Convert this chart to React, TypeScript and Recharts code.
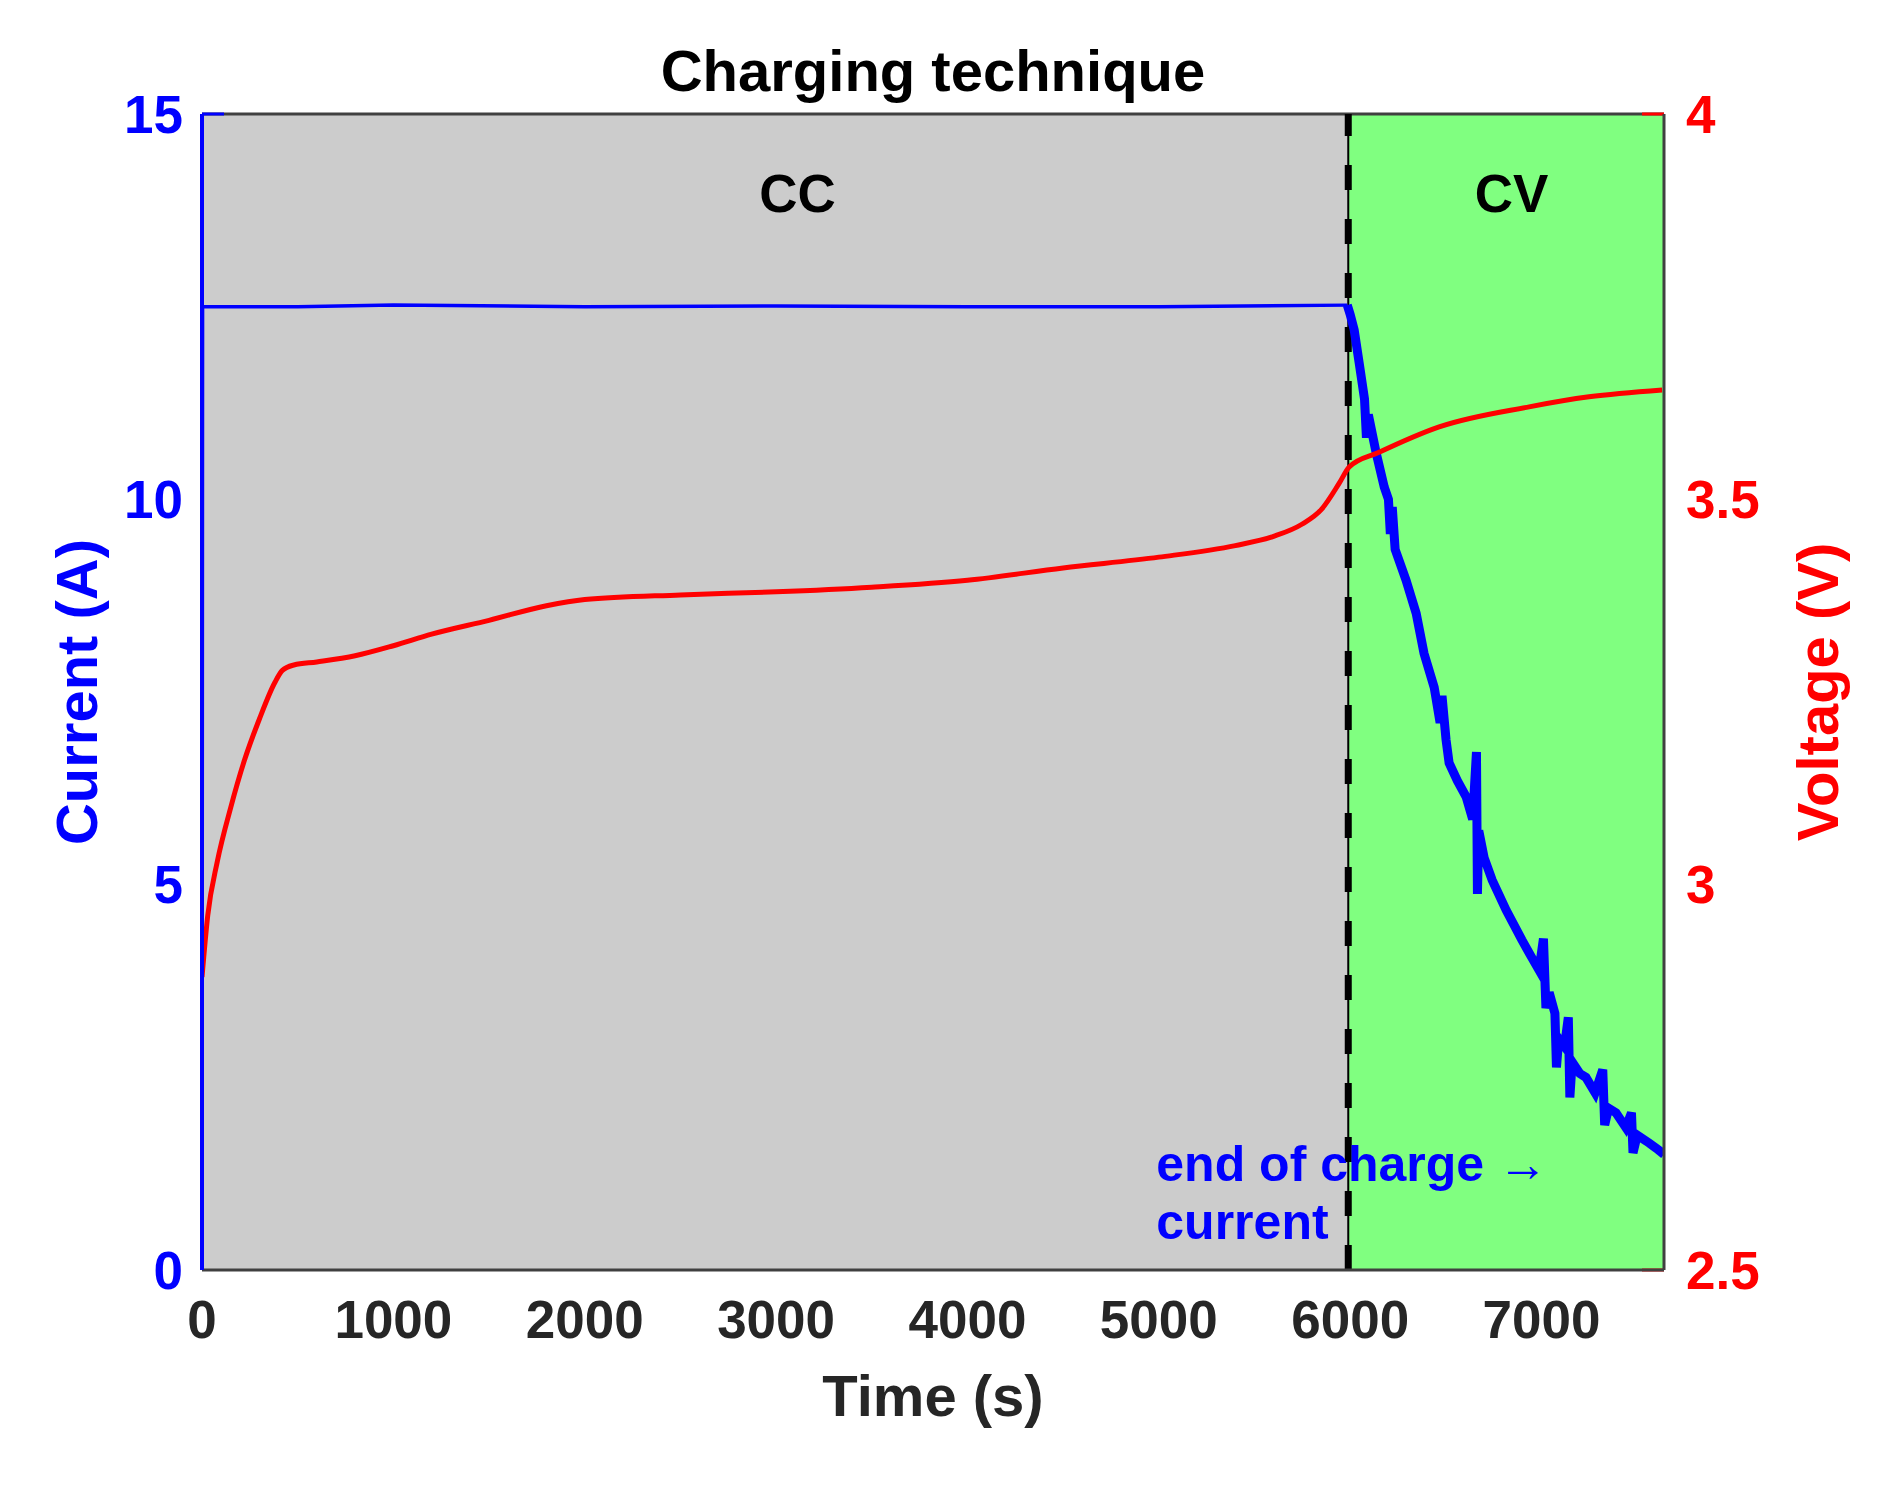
import React from 'react';
import {
  ComposedChart,
  Line,
  XAxis,
  YAxis,
  ReferenceArea,
  ReferenceLine,
  ReferenceDot,
  Label,
} from 'recharts';

const FONT = '"Liberation Sans", Arial, Helvetica, sans-serif';

// Axis ticks
const timeTicks = [0, 1000, 2000, 3000, 4000, 5000, 6000, 7000];
const currentTicks = [0, 5, 10, 15];
const voltageTicks = [2.5, 3, 3.5, 4];

// Phase boundaries (s)
const timeMax = 7640;
const cvStart = 5990;

// Voltage (V)
const voltageTime = [
  0, 30, 80, 150, 220, 300, 380, 420, 480, 600, 800, 1000, 1200, 1500, 1800, 2000,
  2500, 3000, 3500, 4000, 4500, 5000, 5400, 5600, 5750, 5850, 5943, 5995, 6151, 6465,
  6935, 7248, 7630,
];
const voltageValues = [
  2.88, 2.96, 3.03, 3.1, 3.16, 3.215, 3.262, 3.278, 3.285, 3.289, 3.297, 3.31, 3.325,
  3.343, 3.362, 3.37, 3.376, 3.38, 3.386, 3.395, 3.411, 3.425, 3.44, 3.452, 3.468, 3.487,
  3.521, 3.542, 3.561, 3.594, 3.62, 3.633, 3.642,
];

// Current, constant-current phase (A)
const ccTime = [0, 3, 500, 1000, 2000, 3000, 4000, 5000, 5985];
const ccCurrent = [0, 12.5, 12.5, 12.52, 12.5, 12.51, 12.5, 12.5, 12.52];

// Current, constant-voltage phase (A)
const cvTime = [
  5985, 6000, 6021, 6047, 6075, 6085, 6095, 6136, 6178, 6200, 6210, 6220, 6235, 6292,
  6345, 6386, 6439, 6470, 6480, 6501, 6517, 6560, 6606, 6640, 6660, 6665, 6672, 6700,
  6742, 6815, 6898, 6950, 6987, 7010, 7023, 7040, 7070, 7078, 7090, 7120, 7140, 7148,
  7160, 7200, 7232, 7280, 7320, 7330, 7350, 7389, 7440, 7470, 7478, 7500, 7561, 7600,
  7640,
];
const cvCurrent = [
  12.52, 12.4, 12.2, 11.77, 11.3, 10.8, 11.1, 10.6, 10.16, 10.0, 9.55, 9.9, 9.35, 8.95,
  8.52, 8.0, 7.56, 7.1, 7.45, 6.88, 6.58, 6.35, 6.14, 5.85, 6.72, 4.88, 5.7, 5.35,
  5.06, 4.67, 4.28, 4.05, 3.89, 4.3, 3.4, 3.6, 3.33, 2.63, 3.0, 2.9, 3.28, 2.24,
  2.7, 2.55, 2.5, 2.3, 2.6, 1.88, 2.1, 2.04, 1.85, 2.04, 1.52, 1.75, 1.65, 1.58,
  1.5,
];

const voltageData = voltageTime.map((t, i) => ({ t, v: voltageValues[i] }));
const ccData = ccTime.map((t, i) => ({ t, i: ccCurrent[i] }));
const cvData = cvTime.map((t, i) => ({ t, i: cvCurrent[i] }));

const textLabel =
  (lines: string[], opts: { dx?: number; dy?: number; anchor?: string; fill: string; size: number; lineGap?: number }) =>
  (props: any) => {
    const vb = props.viewBox || {};
    const x = (vb.x || 0) + (opts.dx || 0);
    const y = (vb.y || 0) + (opts.dy || 0);
    return (
      <text
        x={x}
        y={y}
        textAnchor={opts.anchor || 'middle'}
        dominantBaseline="central"
        fill={opts.fill}
        fontSize={opts.size}
        fontWeight={700}
        fontFamily={FONT}
      >
        {lines.map((l, k) => (
          <tspan key={k} x={x} dy={k === 0 ? 0 : opts.lineGap || 0}>
            {l}
          </tspan>
        ))}
      </text>
    );
  };

const rotatedLabel = (value: string, x: number, y: number, fill: string) => () => (
  <text
    x={x}
    y={y}
    transform={`rotate(-90 ${x} ${y})`}
    textAnchor="middle"
    dominantBaseline="central"
    fill={fill}
    fontSize={58}
    fontWeight={700}
    fontFamily={FONT}
  >
    {value}
  </text>
);

export default function App() {
  return (
    <div style={{ width: 1888, height: 1469 }}>
      <ComposedChart width={1888} height={1469} margin={{ top: 106, right: 0, bottom: 0, left: 0 }}>
        <XAxis
          type="number"
          dataKey="t"
          domain={[0, timeMax]}
          ticks={timeTicks}
          allowDataOverflow
          height={207}
          tickSize={0}
          tickMargin={30}
          tickLine={false}
          axisLine={{ stroke: '#404040', strokeWidth: 3 }}
          tick={{ fill: '#262626', fontSize: 53, fontWeight: 700, fontFamily: FONT }}
        >
          <Label
            content={() => (
              <text
                x={925}
                y={1387}
                textAnchor="middle"
                dominantBaseline="central"
                fill="#262626"
                fontSize={58}
                fontWeight={700}
                fontFamily={FONT}
              >
                Time (s)
              </text>
            )}
          />
        </XAxis>
        <YAxis
          yAxisId="left"
          orientation="left"
          width={194}
          domain={[0, 15]}
          ticks={currentTicks}
          allowDataOverflow
          tickSize={0}
          tickMargin={19}
          tickLine={false}
          axisLine={{ stroke: '#0000ff', strokeWidth: 4 }}
          tick={{ fill: '#0000ff', fontSize: 53, fontWeight: 700, fontFamily: FONT }}
        >
          <Label content={rotatedLabel('Current (A)', 68, 684, '#0000ff')} />
        </YAxis>
        <YAxis
          yAxisId="right"
          orientation="right"
          width={232}
          domain={[2.5, 4]}
          ticks={voltageTicks}
          allowDataOverflow
          tickSize={0}
          tickMargin={22}
          tickLine={false}
          axisLine={{ stroke: '#404040', strokeWidth: 3 }}
          tick={{ fill: '#ff0000', fontSize: 53, fontWeight: 700, fontFamily: FONT }}
        >
          <Label content={rotatedLabel('Voltage (V)', 1809, 684, '#ff0000')} />
        </YAxis>

        <ReferenceArea yAxisId="left" x1={0} x2={cvStart} y1={0} y2={15} fill="#cccccc" fillOpacity={1} stroke="none" />
        <ReferenceArea yAxisId="left" x1={cvStart} x2={timeMax} y1={0} y2={15} fill="#80ff80" fillOpacity={1} stroke="none" />
        <ReferenceLine yAxisId="left" y={15} stroke="#404040" strokeWidth={3} />
        <ReferenceLine yAxisId="left" x={cvStart} stroke="#000000" strokeWidth={2} />
        <ReferenceLine yAxisId="left" x={cvStart} stroke="#000000" strokeWidth={7} strokeDasharray="25 29" />
        <ReferenceLine yAxisId="left" segment={[{ x: 0, y: 15 }, { x: 115, y: 15 }]} stroke="#0000ff" strokeWidth={3} />
        <ReferenceLine yAxisId="left" segment={[{ x: 7525, y: 15 }, { x: timeMax, y: 15 }]} stroke="#ff0000" strokeWidth={3} />
        <ReferenceLine yAxisId="left" segment={[{ x: 7525, y: 0 }, { x: timeMax, y: 0 }]} stroke="#ff0000" strokeWidth={3} />

        <Line
          yAxisId="left"
          data={ccData}
          dataKey="i"
          type="linear"
          stroke="#0000ff"
          strokeWidth={3.5}
          dot={false}
          isAnimationActive={false}
        />
        <Line
          yAxisId="left"
          data={cvData}
          dataKey="i"
          type="linear"
          stroke="#0000ff"
          strokeWidth={9}
          strokeLinejoin="miter"
          dot={false}
          isAnimationActive={false}
        />
        <Line
          yAxisId="right"
          data={voltageData}
          dataKey="v"
          type="monotone"
          stroke="#ff0000"
          strokeWidth={5}
          dot={false}
          isAnimationActive={false}
        />

        <ReferenceDot yAxisId="left" x={3820} y={15} r={0} fill="none" stroke="none"
          label={textLabel(['Charging technique'], { dy: -44, fill: '#000000', size: 58 })} />
        <ReferenceDot yAxisId="left" x={3112} y={13.98} r={0} fill="none" stroke="none"
          label={textLabel(['CC'], { fill: '#000000', size: 53 })} />
        <ReferenceDot yAxisId="left" x={6843} y={13.98} r={0} fill="none" stroke="none"
          label={textLabel(['CV'], { fill: '#000000', size: 53 })} />
        <ReferenceDot yAxisId="left" x={4987} y={1.3} r={0} fill="none" stroke="none"
          label={textLabel(['end of charge \u2192', 'current'], { dy: -6, anchor: 'start', fill: '#0000ff', size: 50, lineGap: 58 })} />
      </ComposedChart>
    </div>
  );
}
